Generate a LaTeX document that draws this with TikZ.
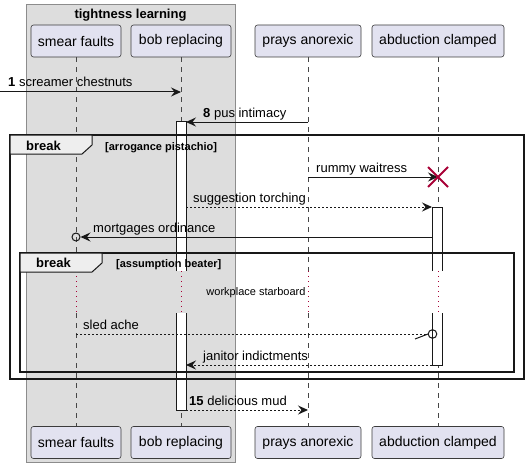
\documentclass[tikz,border=0pt]{standalone}
\usepackage{fontspec}
\setmainfont{Liberation Sans}
\usetikzlibrary{arrows.meta}
\definecolor{partfill}{HTML}{E2E2F0}
\definecolor{partline}{HTML}{181818}
\definecolor{grpfill}{HTML}{DDDDDD}
\definecolor{grpline}{HTML}{8C8C8C}
\definecolor{tabfill}{HTML}{EEEEEE}
\definecolor{delred}{HTML}{A80036}
\begin{document}
\begin{tikzpicture}[x=1pt,y=-1pt,
  part/.style={draw=partline!85, line width=0.6pt, fill=partfill, rounded corners=2.5pt,
    minimum height=32pt, inner sep=0pt, font=\fontsize{14}{16}\selectfont},
  life/.style={draw=partline!80, line width=0.5pt, dash pattern=on 5pt off 5pt},
  delayline/.style={draw=delred, line width=0.7pt, dash pattern=on 1pt off 4pt},
  msg/.style={draw=partline, line width=1pt},
  dmsg/.style={msg, dash pattern=on 2pt off 2pt},
  tip/.style={-{Stealth[length=10pt,width=9pt,inset=3.5pt]}},
  lbl/.style={anchor=base west, inner sep=0pt, font=\fontsize{13}{15}\selectfont},
  actbox/.style={draw=partline, line width=1pt},
  frameline/.style={draw=partline, line width=1.5pt},
  tabbox/.style={draw=partline, line width=1pt, fill=tabfill},
  tabtxt/.style={anchor=base west, inner sep=0pt, font=\bfseries\fontsize{13}{15}\selectfont},
  condtxt/.style={anchor=base west, inner sep=0pt, font=\bfseries\fontsize{11}{13}\selectfont}
]
\useasboundingbox (0,0) rectangle (529,468);
% group box
\draw[draw=grpline, fill=grpfill, line width=1pt] (26,5) rectangle (235,462);
\node[anchor=base, inner sep=0pt, font=\bfseries\fontsize{13}{15}\selectfont] (gt) at (130.5,19) {tightness learning};
% participants
\node[part, minimum width=90pt] (sfT) at (76,41) {smear faults};
\node[part, minimum width=100pt] (brT) at (181,41) {bob replacing};
\node[part, minimum width=106pt] (paT) at (308,41) {prays anorexic};
\node[part, minimum width=132pt] (acT) at (438,41) {abduction clamped};
\node[part, minimum width=90pt] (sfB) at (76,442.5) {smear faults};
\node[part, minimum width=100pt] (brB) at (181,442.5) {bob replacing};
\node[part, minimum width=106pt] (paB) at (308,442.5) {prays anorexic};
\node[part, minimum width=132pt] (acB) at (438,442.5) {abduction clamped};
% delay levels
\coordinate (d1) at (0,271);
\coordinate (d2) at (0,313);
\foreach \p in {sf,br,pa,ac}{
  \draw[life] (\p T.south) -- (\p T.south |- d1);
  \draw[delayline] (\p T.south |- d1) -- (\p T.south |- d2);
  \draw[life] (\p T.south |- d2) -- (\p B.north);
}
% activation boxes
\fill[white] (176,121) rectangle (186,271);
\draw[actbox] (176,271) -- (176,121) -- (186,121) -- (186,271);
\fill[white] (176,313) rectangle (186,410);
\draw[actbox] (176,313) -- (176,410) -- (186,410) -- (186,313);
\fill[white] (432,207) rectangle (442,271);
\draw[actbox] (432,271) -- (432,207) -- (442,207) -- (442,271);
\fill[white] (432,313) rectangle (442,365);
\draw[actbox] (432,313) -- (432,365) -- (442,365) -- (442,313);
% message levels
\coordinate (y1) at (0,92);
\coordinate (y2) at (0,122);
\coordinate (y3) at (0,177);
\coordinate (y4) at (0,207);
\coordinate (y5) at (0,237);
\coordinate (y6) at (0,334);
\coordinate (y7) at (0,365);
\coordinate (y8) at (0,410);
\coordinate (bA) at (186,0);
\coordinate (aA) at (432,0);
% 1
\draw[msg,tip] (y1) -- (brT.south |- y1);
\node[lbl] (l1) at (8,87) {\textbf{1} screamer chestnuts};
% 8
\draw[msg,tip] (paT.south |- y2) -- (bA |- y2);
\node[lbl] (l2) at (203,117.5) {\textbf{8} pus intimacy};
% rummy waitress + destroy
\draw[msg,tip] (paT.south |- y3) -- (acT.south |- y3);
\node[lbl] (l3) at (316,172.5) {rummy waitress};
\coordinate (xc) at (acT.south |- y3);
\draw[delred, line width=1.8pt] ([xshift=-10pt,yshift=10pt]xc) -- ([xshift=10pt,yshift=-10pt]xc);
\draw[delred, line width=1.8pt] ([xshift=-10pt,yshift=-10pt]xc) -- ([xshift=10pt,yshift=10pt]xc);
% suggestion torching
\draw[dmsg,tip] (bA |- y4) -- (aA |- y4);
\node[lbl] (l4) at (193,202.5) {suggestion torching};
% mortgages ordinance
\coordinate (c5) at (sfT.south |- y5);
\draw[msg,tip] (aA |- y5) -- ([xshift=4.5pt]c5);
\draw[partline, line width=1pt] (c5) circle[radius=4pt];
\node[lbl] (l5) at (93,232.5) {mortgages ordinance};
% sled ache
\coordinate (c6) at (432.5,334);
\draw[dmsg] (sfT.south |- y6) -- ([xshift=-4.5pt]c6);
\draw[partline, line width=1pt] ([xshift=-4.5pt]c6) -- ++(-13,5);
\draw[partline, line width=1pt] (c6) circle[radius=4.3pt];
\node[lbl] (l6) at (83,329.5) {sled ache};
% janitor indictments
\draw[dmsg,tip] (aA |- y7) -- (bA |- y7);
\node[lbl] (l7) at (203,360.5) {janitor indictments};
% delicious mud
\draw[dmsg,tip] (bA |- y8) -- (paT.south |- y8);
\node[lbl] (l8) at (189,405.5) {\textbf{15} delicious mud};
% delay text
\node[inner sep=0pt, font=\fontsize{11}{13}\selectfont] (dt) at (256,293) {workplace starboard};
% frames
\draw[frameline] (10,135) rectangle (524,379);
\draw[tabbox] (10,135) -- (92,135) -- (92,145) -- (82,154) -- (10,154) -- cycle;
\node[tabtxt] (b1) at (26,150.5) {break};
\node[condtxt] (c1) at (105,150) {[arrogance pistachio]};
\draw[frameline] (20,253) rectangle (514,372);
\draw[tabbox] (20,253) -- (102,253) -- (102,263) -- (92,272) -- (20,272) -- cycle;
\node[tabtxt] (b2) at (36,267.5) {break};
\node[condtxt] (c2) at (116,267) {[assumption beater]};
\end{tikzpicture}
\end{document}
